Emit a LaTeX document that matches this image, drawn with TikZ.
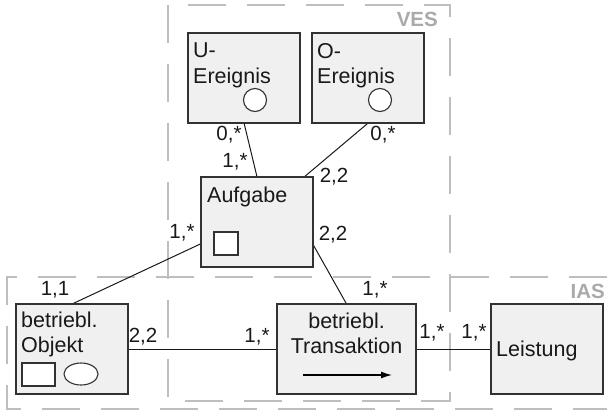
\documentclass[tikz,border=0pt]{standalone}
\usepackage{fontspec}
\setmainfont{Liberation Sans}
\usepackage{tikz}
\usetikzlibrary{calc,arrows.meta}
\definecolor{boxfill}{RGB}{240,240,240}
\definecolor{boxline}{RGB}{50,50,50}
\definecolor{regionline}{RGB}{190,190,190}
\definecolor{regiontext}{RGB}{170,170,170}
\tikzset{entity/.style={
    draw=boxline,
    fill=boxfill,
    line width=1.1pt,
    anchor=north west,
    inner sep=0pt,
    minimum width=111pt,
    minimum height=89pt
  },
  entity text/.style={
    anchor=north west,
    inner sep=0pt,
    align=left,
    text=black!90,
    font=\fontsize{21.5}{25.5}\selectfont
  },
  card/.style={
    inner sep=0pt,
    text=black!90,
    font=\fontsize{20.5}{24}\selectfont
  },
  region/.style={draw=regionline, line width=2pt, dash pattern=on 38pt off 21pt},
  region label/.style={inner sep=0pt, text=regiontext, font=\bfseries\fontsize{20.5}{24}\selectfont},
  link/.style={draw=black!90, line width=1pt},
  symbol/.style={draw=boxline, fill=white, line width=1.1pt}
}

\begin{document}
\begin{tikzpicture}[x=1pt,y=-1pt]
        \useasboundingbox (0,0) rectangle (607,413);
        % views
        \draw[region] (168,5) rectangle (450,401);
        \draw[region] (607,277) -- (7,277) -- (7,409) -- (607,409);
        \node[region label, anchor=north east] (VES) at (438,12) {VES};
        \node[region label, anchor=north east] (IAS) at (605,284) {IAS};
        % entities
        \node[entity] (UEreignis) at (188,33) {};
        \node[entity] (OEreignis) at (312,33) {};
        \node[entity] (Aufgabe) at (201,177) {};
        \node[entity] (Objekt) at (16,304) {};
        \node[entity, minimum width=138pt] (Transaktion) at (277,304) {};
        \node[entity] (Leistung) at (491,304) {};
        % connectors
        \draw[link] (UEreignis.south) -- (Aufgabe.north);
        \draw[link] (OEreignis.south) -- ($(Aufgabe.north)!0.84!(Aufgabe.north east)$);
        \draw[link] ($(Aufgabe.west)!0.48!(Aufgabe.south west)$) -- (Objekt.north);
        \draw[link] ($(Aufgabe.east)!0.5!(Aufgabe.south east)$) -- (Transaktion.north);
        \draw[link] (Objekt.east) -- (Transaktion.west);
        \draw[link] (Transaktion.east) -- (Leistung.west);
        % redraw entities on top of connectors
        \foreach \e in {UEreignis,OEreignis,Aufgabe,Objekt,Transaktion,Leistung}
          \draw[draw=boxline, line width=1.1pt] (\e.north west) rectangle (\e.south east);
        % texts
        \node[entity text] (UEreignisText) at ([shift={(5,10)}]UEreignis.north west) {U-\\Ereignis};
        \node[entity text] (OEreignisText) at ([shift={(5,10)}]OEreignis.north west) {O-\\Ereignis};
        \node[entity text] (AufgabeText) at ([shift={(6,9.5)}]Aufgabe.north west) {Aufgabe};
        \node[entity text] (ObjektText) at ([shift={(5,7.5)}]Objekt.north west) {betriebl.\\Objekt};
        \node[entity text, anchor=north, align=center] (TransaktionText) at ([shift={(0,8.5)}]Transaktion.north) {betriebl.\\Transaktion};
        \node[entity text, anchor=base west] (LeistungText) at ([shift={(5,7)}]Leistung.west) {Leistung};
        % symbols
        \draw[symbol] (255,100) circle (11.5);
        \draw[symbol] (380,100) circle (11.5);
        \draw[symbol] (214,232) rectangle (238,255);
        \draw[symbol] (22,363) rectangle (55,386);
        \draw[symbol] (81,374) ellipse (17 and 11);
        \draw[line width=1.3pt, -{Latex[length=11pt,width=7pt]}] (303,375) -- (392,375);
        % cardinalities
        \node[card] (c1) at (229,135) {0,*};
        \node[card] (c2) at (235,162) {1,*};
        \node[card] (c3) at (383,135) {0,*};
        \node[card] (c4) at (334,177) {2,2};
        \node[card] (c5) at (182,233) {1,*};
        \node[card] (c6) at (333,235) {2,2};
        \node[card] (c7) at (55,290) {1,1};
        \node[card] (c8) at (143,337) {2,2};
        \node[card] (c9) at (257,337) {1,*};
        \node[card] (c10) at (375,290) {1,*};
        \node[card] (c11) at (432,333) {1,*};
        \node[card] (c12) at (474,333) {1,*};
    \end{tikzpicture}
\end{document}
